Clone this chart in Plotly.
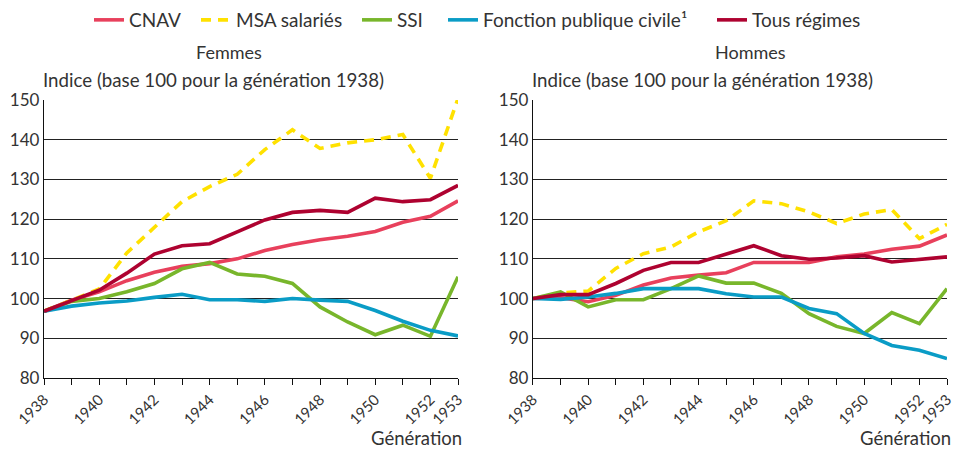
import plotly.graph_objects as go

years = list(range(1938, 1954))
tick_labels = [str(y) if (y % 2 == 0 or y == 1953) else "" for y in years]

series_names = ["CNAV", "MSA salariés", "SSI", "Fonction publique civile¹", "Tous régimes"]

# Femmes
cnav_f = [96.8, 99.6, 101.7, 104.5, 106.6, 108.1, 108.8, 110.0, 112.1, 113.6, 114.8, 115.7, 116.9, 119.2, 120.7, 124.6]
msa_f = [96.8, 99.5, 102.4, 111.5, 118.0, 124.4, 128.2, 131.3, 137.5, 142.5, 137.8, 139.2, 140.0, 141.3, 130.3, 150.4]
ssi_f = [96.8, 99.3, 100.0, 101.7, 103.8, 107.5, 109.1, 106.2, 105.6, 103.8, 97.9, 94.1, 90.9, 93.3, 90.5, 105.5]
fp_f = [96.8, 98.1, 98.9, 99.4, 100.3, 101.1, 99.7, 99.7, 99.3, 100.0, 99.6, 99.3, 97.0, 94.3, 92.0, 90.6]
tous_f = [96.8, 99.5, 102.1, 106.4, 111.2, 113.3, 113.8, 116.8, 119.8, 121.7, 122.2, 121.7, 125.3, 124.4, 124.9, 128.5]

# Hommes
cnav_h = [100.0, 100.2, 99.2, 100.8, 103.4, 105.2, 105.9, 106.5, 109.1, 109.1, 109.1, 110.5, 111.2, 112.4, 113.2, 116.0]
msa_h = [100.0, 101.4, 101.9, 107.6, 111.3, 113.0, 116.8, 119.6, 124.6, 123.9, 121.8, 118.9, 121.3, 122.4, 115.1, 118.7]
ssi_h = [100.0, 101.7, 97.9, 99.7, 99.7, 102.5, 105.7, 103.9, 103.9, 101.3, 96.2, 93.0, 91.2, 96.5, 93.7, 102.5]
fp_h = [100.0, 99.8, 100.4, 101.3, 102.5, 102.5, 102.5, 101.2, 100.4, 100.4, 97.5, 96.2, 91.2, 88.2, 87.0, 84.9]
tous_h = [100.0, 101.0, 101.0, 103.8, 107.1, 109.1, 109.1, 111.3, 113.3, 110.8, 109.9, 110.2, 110.8, 109.2, 109.8, 110.5]

colors = ["#E8405C", "#FFE100", "#78B62B", "#0A9CC6", "#AE0230"]
dashes = ["solid", "10px,7px", "solid", "solid", "solid"]
legend_ids = ["legend", "legend2", "legend3", "legend4", "legend5"]
legend_text_x = [129, 236, 397, 483, 752]  # pixel where each legend label starts

FONT = "Lato"
TXT = "#333333"

fig = go.Figure()
panels = [
    ("x", "y", [cnav_f, msa_f, ssi_f, fp_f, tous_f], True),
    ("x2", "y2", [cnav_h, msa_h, ssi_h, fp_h, tous_h], False),
]
for xa, ya, data, show in panels:
    for name, vals, c, d, lg in zip(series_names, data, colors, dashes, legend_ids):
        fig.add_trace(go.Scatter(
            x=years, y=vals, mode="lines", name=name,
            line=dict(color=c, width=3.6, dash=d),
            xaxis=xa, yaxis=ya, showlegend=show, legendgroup=name, legend=lg,
        ))

xcommon = dict(
    range=[1938, 1953], tickvals=years, ticktext=tick_labels, tickangle=-45,
    ticks="outside", ticklen=6, tickwidth=1.3, tickcolor="#111",
    showline=True, linecolor="#111", linewidth=1.3, showgrid=False,
    zeroline=False, tickfont=dict(family=FONT, size=15, color=TXT),
)
ycommon = dict(
    range=[80, 150], tickvals=[80, 90, 100, 110, 120, 130, 140, 150],
    showline=True, linecolor="#111", linewidth=1.3,
    showgrid=True, gridcolor="#222", gridwidth=1, zeroline=False,
    ticks="", tickfont=dict(family=FONT, size=17, color=TXT),
)

legends = {}
for lg, tx in zip(legend_ids, legend_text_x):
    legends[lg] = dict(
        orientation="h", xref="container", yref="container",
        x=(tx - 40) / 956, xanchor="left", y=1 - 20 / 452, yanchor="middle",
        font=dict(family=FONT, size=19, color=TXT),
        itemwidth=30, borderwidth=0, bgcolor="rgba(0,0,0,0)",
    )

fig.update_layout(
    width=956, height=452,
    margin=dict(l=44, r=9, t=100, b=74, autoexpand=False),
    paper_bgcolor="white", plot_bgcolor="white",
    font=dict(family=FONT, size=18, color=TXT),
    xaxis=dict(domain=[0, 0.4585], anchor="y", **xcommon),
    yaxis=dict(domain=[0, 1], anchor="x", **ycommon),
    xaxis2=dict(domain=[0.5415, 1], anchor="y2", **xcommon),
    yaxis2=dict(domain=[0, 1], anchor="x2", **ycommon),
    showlegend=True,
    **legends,
)

def pxx(px):
    return (px - 44) / (956 - 44 - 9)

def pxy(py):
    return (452 - 74 - py) / (452 - 100 - 74)

annots = [
    dict(text="Femmes", x=pxx(229), y=pxy(52), xanchor="center", yanchor="middle", size=18),
    dict(text="Hommes", x=pxx(750), y=pxy(52), xanchor="center", yanchor="middle", size=18),
    dict(text="Indice (base 100 pour la génération 1938)", x=pxx(41), y=pxy(80), xanchor="left", yanchor="middle", size=18.7),
    dict(text="Indice (base 100 pour la génération 1938)", x=pxx(530), y=pxy(80), xanchor="left", yanchor="middle", size=18.7),
    dict(text="Génération", x=pxx(464), y=pxy(451), xanchor="right", yanchor="bottom", size=18.5),
    dict(text="Génération", x=pxx(953), y=pxy(451), xanchor="right", yanchor="bottom", size=18.5),
]
for a in annots:
    size = a.pop("size")
    fig.add_annotation(xref="paper", yref="paper", showarrow=False,
                       font=dict(family=FONT, size=size, color=TXT), **a)

fig.write_html(
    "out.html",
    config={"displayModeBar": False},
    post_script="document.body.style.margin='0px';document.body.style.overflow='hidden';",
)
